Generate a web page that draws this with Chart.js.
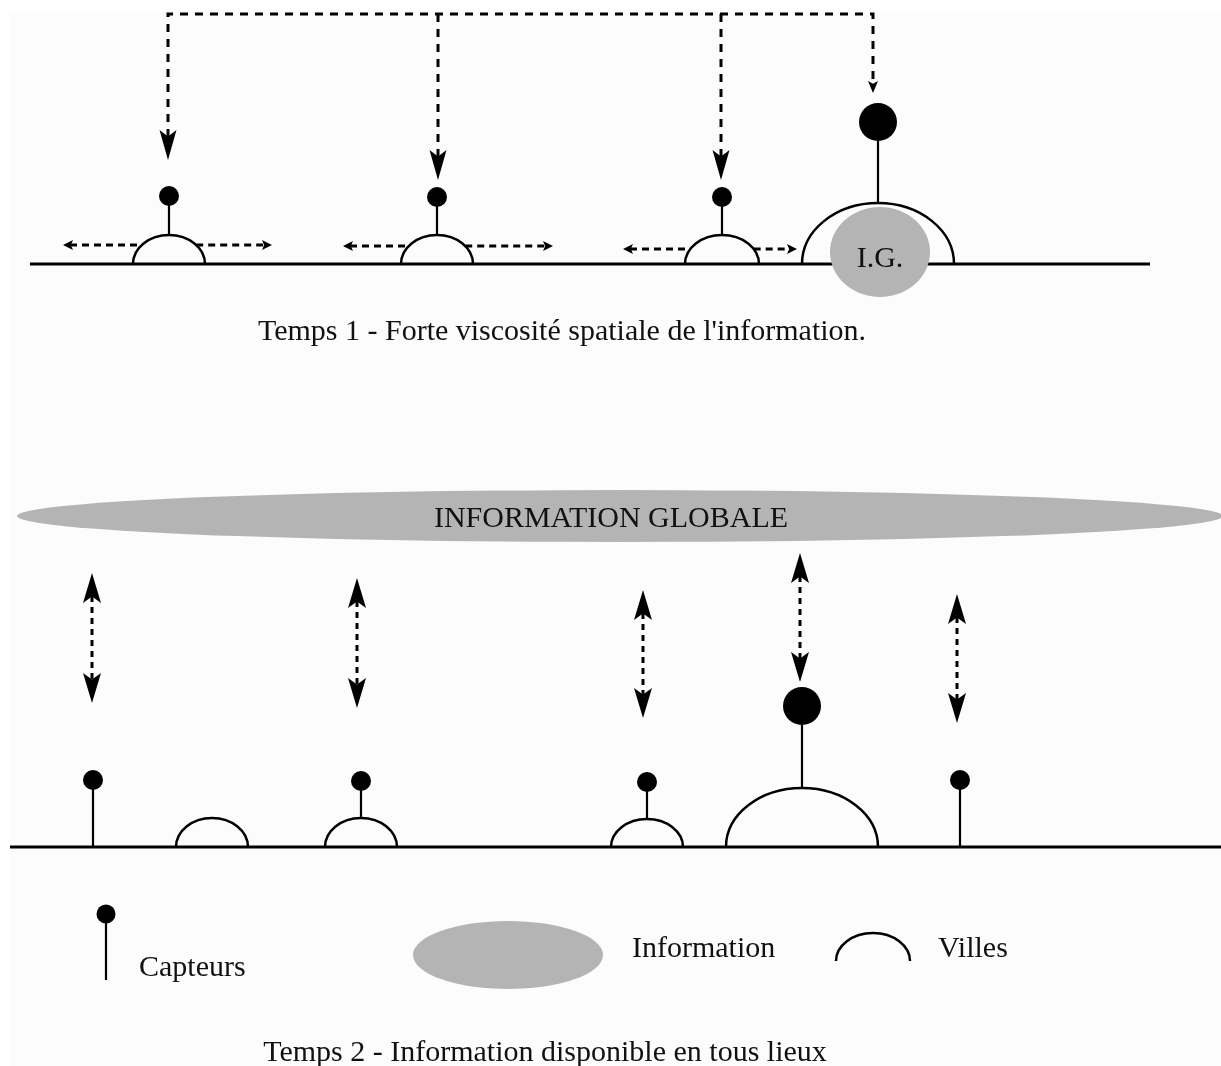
<!DOCTYPE html>
<html lang="fr">
<head>
<meta charset="utf-8">
<title>Viscosité spatiale de l'information</title>
<script src="https://cdn.jsdelivr.net/npm/chart.js@4.4.1/dist/chart.umd.min.js"></script>
<style>
  html, body { margin: 0; padding: 0; background: #ffffff; }
  #cadre { width: 1221px; height: 1066px; }
</style>
</head>
<body>
<div id="cadre"><canvas id="schema"></canvas></div>
<script>
// ---- Temps 1 ----
const sol1 = 264;
const villes1X = [169, 437, 722, 878];
const villes1Rayon = [36, 36, 37, 76];
const villes1Hauteur = [29, 29, 29, 61];
const capteurs1Y = [196, 197, 197, 122];
const capteurs1Taille = [10, 10, 10, 19];
const flux1X = [168, 438, 721, 873];
const flux1Pointe = [160, 180, 180, 93];
const diffusionGauche = [63, 343, 623];
const diffusionDroite = [272, 553, 797];
const diffusionY = [245, 246, 249];

// ---- Temps 2 ----
const sol2 = 847;
const villes2X = [212, 361, 647, 802];
const villes2Rayon = [36, 36, 36, 76];
const villes2Hauteur = [29, 29, 28, 59];
const capteurs2X = [93, 361, 647, 802, 960];
const capteurs2Y = [780, 781, 782, 706, 780];
const capteurs2Taille = [10, 10, 10, 19, 10];
const capteurs2Pied = [847, 818, 819, 788, 847];
const echangesX = [92, 357, 643, 800, 957];
const echangesHaut = [573, 578, 590, 553, 594];
const echangesBas = [703, 708, 718, 682, 723];

const titre1 = "Temps 1 - Forte viscosité spatiale de l'information.";
const titre2 = "Temps 2 - Information disponible en tous lieux";
const etiquetteIG = "I.G.";
const etiquetteGlobale = "INFORMATION GLOBALE";
const legende = ["Capteurs", "Information", "Villes"];

const NOIR = '#000000';
const GRIS = '#b4b4b4';
const POLICE = "30px 'Liberation Serif', 'Times New Roman', serif";
const TIRETS = [8, 7];

const jeux = [];

function trait(points, pointille, epaisseur) {
  jeux.push({
    data: points.map(p => ({ x: p[0], y: p[1] })),
    showLine: true,
    borderColor: NOIR,
    borderWidth: epaisseur,
    borderDash: pointille || [],
    pointRadius: 0,
    tension: 0,
    fill: false
  });
}

// lignes de sol
trait([[30, sol1], [1150, sol1]], null, 3);
trait([[10, sol2], [1221, sol2]], null, 3);

// reseau en haut (temps 1)
trait([[flux1X[0], flux1Pointe[0] - 23], [flux1X[0], 14], [flux1X[3], 14], [flux1X[3], flux1Pointe[3] - 8]], TIRETS, 3);
trait([[flux1X[1], 14], [flux1X[1], flux1Pointe[1] - 23]], TIRETS, 3);
trait([[flux1X[2], 14], [flux1X[2], flux1Pointe[2] - 23]], TIRETS, 3);

// tiges des capteurs
villes1X.forEach((vx, i) => trait([[vx, capteurs1Y[i]], [vx, sol1 - villes1Hauteur[i]]], null, 2.2));
capteurs2X.forEach((cx, i) => trait([[cx, capteurs2Y[i]], [cx, capteurs2Pied[i]]], null, 2.2));
trait([[106, 914], [106, 980]], null, 2.2);

// diffusion horizontale
diffusionY.forEach((dy, i) => {
  const r = villes1Rayon[i], h = villes1Hauteur[i];
  const ecart = r * Math.sqrt(Math.max(0, 1 - Math.pow((sol1 - dy) / h, 2)));
  trait([[diffusionGauche[i] + 7, dy], [villes1X[i] - ecart, dy]], [7, 5], 2.8);
  trait([[villes1X[i] + ecart, dy], [diffusionDroite[i] - 7, dy]], [7, 5], 2.8);
});

// echanges verticaux (temps 2)
echangesX.forEach((ex, i) => trait([[ex, echangesHaut[i] + 23], [ex, echangesBas[i] - 23]], [6, 5], 3));

// points des capteurs
const points = [];
const rayons = [];
villes1X.forEach((vx, i) => { points.push({ x: vx, y: capteurs1Y[i] }); rayons.push(capteurs1Taille[i]); });
capteurs2X.forEach((cx, i) => { points.push({ x: cx, y: capteurs2Y[i] }); rayons.push(capteurs2Taille[i]); });
points.push({ x: 106, y: 914 }); rayons.push(9.5);
jeux.unshift({
  data: points,
  showLine: false,
  pointRadius: rayons,
  pointBackgroundColor: NOIR,
  pointBorderWidth: 0,
  pointStyle: 'circle'
});

function pointe(ctx, tx, ty, dx, dy, L, W) {
  const nx = -dy, ny = dx;
  const bx = tx - dx * L, by = ty - dy * L;
  ctx.beginPath();
  ctx.moveTo(tx, ty);
  ctx.lineTo(bx + nx * W / 2, by + ny * W / 2);
  ctx.lineTo(tx - dx * L * 0.78, ty - dy * L * 0.78);
  ctx.lineTo(bx - nx * W / 2, by - ny * W / 2);
  ctx.closePath();
  ctx.fill();
}

const dessin = {
  id: 'dessin',
  beforeDraw(chart) {
    const ctx = chart.ctx;
    ctx.save();
    ctx.fillStyle = '#ffffff';
    ctx.fillRect(0, 0, chart.width, chart.height);
    ctx.fillStyle = '#fcfcfc';
    ctx.fillRect(10, 12, chart.width - 10, chart.height - 12);
    ctx.restore();
  },
  afterDatasetsDraw(chart) {
    const { ctx, scales: { x, y } } = chart;
    const px = v => x.getPixelForValue(v);
    const py = v => y.getPixelForValue(v);
    const lx = (c, r) => Math.abs(px(c + r) - px(c));
    const ly = (c, r) => Math.abs(py(c + r) - py(c));

    ctx.save();
    // ellipses grises
    ctx.fillStyle = GRIS;
    const ellipse = (cx, cy, rx, ry) => {
      ctx.beginPath();
      ctx.ellipse(px(cx), py(cy), lx(cx, rx), ly(cy, ry), 0, 0, Math.PI * 2);
      ctx.fill();
    };
    ellipse(880, 252, 50, 45);
    ellipse(620, 516, 603, 26);
    ellipse(508, 955, 95, 34);

    // villes
    ctx.strokeStyle = NOIR;
    ctx.lineWidth = 2.5;
    const ville = (cx, base, r, h) => {
      ctx.beginPath();
      ctx.ellipse(px(cx), py(base), lx(cx, r), ly(base, h), 0, Math.PI, Math.PI * 2);
      ctx.stroke();
    };
    villes1X.forEach((vx, i) => ville(vx, sol1, villes1Rayon[i], villes1Hauteur[i]));
    villes2X.forEach((vx, i) => ville(vx, sol2, villes2Rayon[i], villes2Hauteur[i]));
    ville(873, 961, 37, 28);

    // pointes de fleches
    ctx.fillStyle = NOIR;
    flux1X.forEach((fx, i) => {
      if (i < 3) pointe(ctx, px(fx), py(flux1Pointe[i]), 0, 1, 30, 17);
      else pointe(ctx, px(fx), py(flux1Pointe[i]), 0, 1, 12, 10);
    });
    diffusionY.forEach((dy, i) => {
      pointe(ctx, px(diffusionGauche[i]), py(dy), -1, 0, 10, 10);
      pointe(ctx, px(diffusionDroite[i]), py(dy), 1, 0, 10, 10);
    });
    echangesX.forEach((ex, i) => {
      pointe(ctx, px(ex), py(echangesHaut[i]), 0, -1, 30, 18);
      pointe(ctx, px(ex), py(echangesBas[i]), 0, 1, 30, 18);
    });

    // textes
    ctx.fillStyle = '#111111';
    ctx.font = POLICE;
    ctx.textBaseline = 'alphabetic';
    ctx.textAlign = 'center';
    ctx.fillText(etiquetteIG, px(880), py(267));
    ctx.fillText(titre1, px(562), py(340));
    ctx.fillText(etiquetteGlobale, px(611), py(527));
    ctx.fillText(titre2, px(545), py(1061));
    ctx.textAlign = 'left';
    ctx.fillText(legende[0], px(139), py(976));
    ctx.fillText(legende[1], px(632), py(957));
    ctx.fillText(legende[2], px(938), py(957));
    ctx.restore();
  }
};

new Chart(document.getElementById('schema'), {
  type: 'scatter',
  data: { datasets: jeux },
  options: {
    responsive: true,
    maintainAspectRatio: false,
    animation: false,
    events: [],
    layout: { padding: 0, autoPadding: false },
    plugins: { legend: { display: false }, tooltip: { enabled: false } },
    scales: {
      x: { type: 'linear', min: 0, max: 1221, display: false },
      y: { type: 'linear', min: 0, max: 1066, reverse: true, display: false }
    }
  },
  plugins: [dessin]
});
</script>
</body>
</html>
